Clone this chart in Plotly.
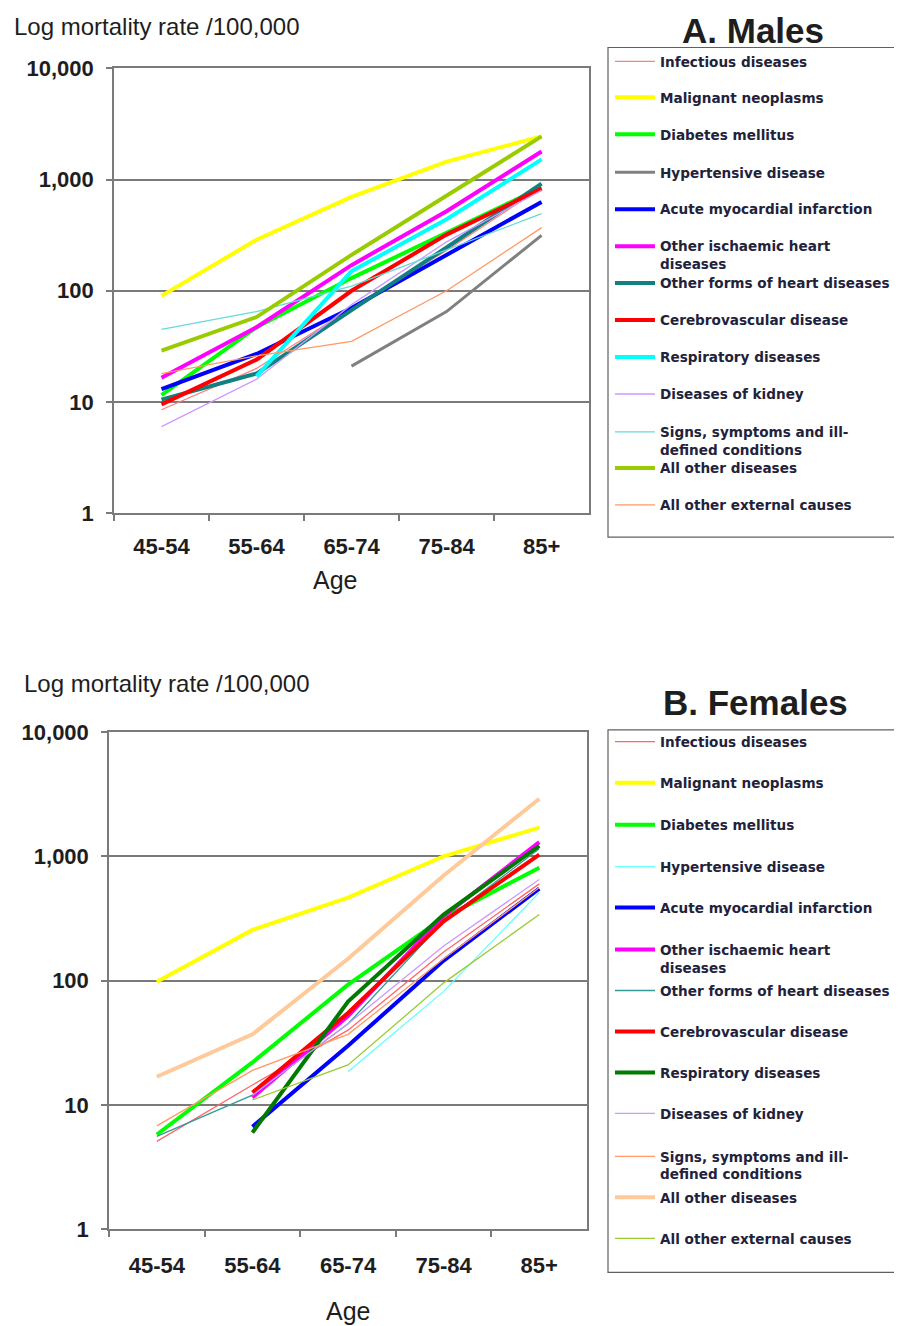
import plotly.graph_objects as go

ages = ["45-54", "55-64", "65-74", "75-84", "85+"]
y_tickvals = [1, 10, 100, 1000, 10000]
y_ticktext = ["1", "10", "100", "1,000", "10,000"]

names_m = ["Infectious diseases", "Malignant neoplasms", "Diabetes mellitus",
           "Hypertensive disease", "Acute myocardial infarction",
           "Other ischaemic heart<br>diseases", "Other forms of heart diseases",
           "Cerebrovascular disease", "Respiratory diseases", "Diseases of kidney",
           "Signs, symptoms and ill-<br>defined conditions", "All other diseases",
           "All other external causes"]
names_f = list(names_m)

# Males
m_infectious = [8.5, 20, 70, 230, 850]
m_malignant = [90, 288, 700, 1450, 2450]
m_diabetes = [11.5, 47, 130, 330, 850]
m_hypertensive = [None, None, 21, 65, 315]
m_ami = [13, 27, 70, 210, 630]
m_other_isch = [16.5, 47, 170, 520, 1790]
m_other_heart = [10.5, 18, 67, 245, 920]
m_cerebro = [9.5, 24, 100, 320, 830]
m_resp = [None, 17, 150, 440, 1520]
m_kidney = [6, 16, 75, 275, 800]
m_signs = [45, 65, 110, 234, 495]
m_all_other = [29, 58, 210, 720, 2450]
m_external = [18, 26, 35, 100, 370]

# Females
f_infectious = [5.1, 14.5, 40, 170, 600]
f_malignant = [98, 256, 465, 1000, 1700]
f_diabetes = [5.8, 22, 93, 320, 810]
f_hypertensive = [None, None, 18.5, 82, 510]
f_ami = [None, 6.7, 30, 145, 550]
f_other_isch = [None, 11.5, 52, 330, 1300]
f_other_heart = [5.6, 12, 45, 300, 1150]
f_cerebro = [None, 12.6, 55, 300, 1030]
f_resp = [None, 6, 68, 340, 1210]
f_kidney = [None, 12, 45, 190, 650]
f_signs = [6.8, 19, 37, 150, 560]
f_all_other = [16.9, 37, 150, 700, 2900]
f_external = [None, 11, 21, 96, 340]

males = [m_infectious, m_malignant, m_diabetes, m_hypertensive, m_ami, m_other_isch,
         m_other_heart, m_cerebro, m_resp, m_kidney, m_signs, m_all_other, m_external]
females = [f_infectious, f_malignant, f_diabetes, f_hypertensive, f_ami, f_other_isch,
           f_other_heart, f_cerebro, f_resp, f_kidney, f_signs, f_all_other, f_external]

colors_m = ["#FF7F7F", "#FFFF00", "#00FF00", "#808080", "#0000FF", "#FF00FF",
            "#108080", "#FF0000", "#00FFFF", "#CC99FF", "#66D9D9", "#99CC00", "#FF9966"]
widths_m = [1.3, 4, 4, 3, 4, 4, 4, 4, 4, 1.3, 1.3, 4, 1.3]
colors_f = ["#FF6666", "#FFFF00", "#00FF00", "#66FFFF", "#0000FF", "#FF00FF",
            "#339999", "#FF0000", "#007A00", "#CC99FF", "#FF9966", "#FFC999", "#99CC33"]
widths_f = [1.3, 4, 4, 1.3, 4, 4, 1.3, 4, 4, 1.3, 1.3, 4, 1.3]

# legend item vertical positions (page pixels)
leg_y_m = [61, 97, 134, 172, 209, 255, 283, 320, 357, 394, 441, 468, 505]
leg_y_f = [742, 783, 825, 867, 908, 959, 991, 1032, 1073, 1114, 1166, 1198, 1239]

W, H = 902, 1326
def px(x):
    return ((x - 6.6) / 1.004) / W
def py(y):
    return 1 - ((y - 19.5) / 0.982) / H

legfont = dict(family="DejaVu Sans", size=13.6, color="#22223A", weight="bold")
legends = {}
fig = go.Figure()
k = 1
for names, data, cols, wids, ly, xa, ya in [
        (names_m, males, colors_m, widths_m, leg_y_m, "x", "y"),
        (names_f, females, colors_f, widths_f, leg_y_f, "x2", "y2")]:
    for i, (nm, vals) in enumerate(zip(names, data)):
        lname = "legend" if k == 1 else "legend%d" % k
        fig.add_trace(go.Scatter(x=ages, y=vals, mode="lines", name=nm,
                                 line=dict(color=cols[i], width=wids[i]),
                                 xaxis=xa, yaxis=ya, legend=lname,
                                 connectgaps=False))
        legends[lname] = dict(x=px(611), y=py(ly[i]), xanchor="left", yanchor="middle",
                              borderwidth=0, bgcolor="rgba(0,0,0,0)", font=legfont,
                              itemwidth=40, valign="top")
        k += 1

grid = "#7A7A7A"
tickfont = dict(family="Liberation Sans, Arial", size=22, color="#1E1E1E", weight="bold")
def xaxis_cfg(domain, anchor, standoff):
    return dict(domain=domain, anchor=anchor, type="category", range=[-0.5, 4.5],
                showline=True, linecolor=grid, linewidth=1.5, mirror=True,
                ticks="outside", tickson="boundaries", ticklen=6, tickcolor=grid,
                tickwidth=1.5, showgrid=False, tickfont=tickfont,
                ticklabelstandoff=standoff)
def yaxis_cfg(domain, anchor):
    return dict(domain=domain, anchor=anchor, type="log", range=[0, 4],
                tickvals=y_tickvals, ticktext=y_ticktext,
                showline=True, linecolor=grid, linewidth=1.5, mirror=True,
                showgrid=True, gridcolor=grid, gridwidth=1.5, ticks="outside",
                ticklen=6, tickcolor=grid, tickwidth=1.5, tickfont=tickfont,
                zeroline=False, ticklabelstandoff=8)

txtfont = dict(family="Liberation Sans, Arial", size=24, color="#1E1E1E")
agefont = dict(family="Liberation Sans, Arial", size=25, color="#1E1E1E")
ttlfont = dict(family="Liberation Sans, Arial", size=35, color="#1E1E1E", weight="bold")
def ann(text, x, y, font, xanchor="left"):
    return dict(text=text, x=px(x), y=py(y), xref="paper", yref="paper",
                xanchor=xanchor, yanchor="middle", showarrow=False, font=font)

fig.update_layout(
    width=W, height=H, margin=dict(l=0, r=0, t=0, b=0),
    paper_bgcolor="white", plot_bgcolor="white", showlegend=True,
    xaxis=xaxis_cfg([px(113), px(590)], "y", 13),
    yaxis=yaxis_cfg([py(513), py(68)], "x"),
    xaxis2=xaxis_cfg([px(108), px(588)], "y2", 15),
    yaxis2=yaxis_cfg([py(1230), py(732)], "x2"),
    shapes=[
        dict(type="rect", xref="paper", yref="paper", x0=px(609), x1=px(930),
             y0=py(537), y1=py(47), line=dict(color="#606060", width=1.2)),
        dict(type="rect", xref="paper", yref="paper", x0=px(609), x1=px(930),
             y0=py(1273), y1=py(730), line=dict(color="#606060", width=1.2)),
    ],
    annotations=[
        ann("Log mortality rate /100,000", 11, 26, txtfont),
        ann("Log mortality rate /100,000", 21, 684, txtfont),
        ann("A. Males", 755, 30, ttlfont, "center"),
        ann("B. Females", 757, 703, ttlfont, "center"),
        ann("Age", 335, 580, agefont, "center"),
        ann("Age", 348, 1312, agefont, "center"),
    ],
)
fig.update_layout(**legends)
fig.write_html("out.html")
